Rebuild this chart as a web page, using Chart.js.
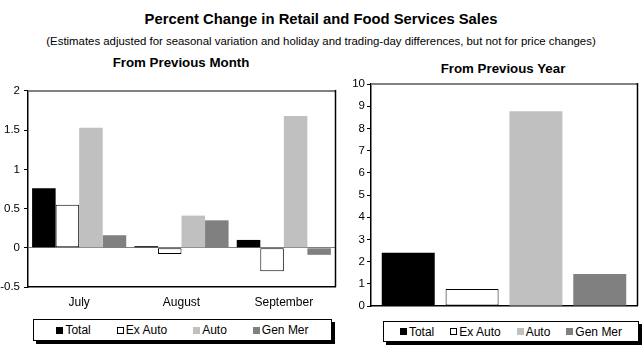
<!DOCTYPE html>
<html>
<head>
<meta charset="utf-8">
<script src="https://cdn.jsdelivr.net/npm/chart.js@4.4.1/dist/chart.umd.min.js"></script>
<style>
  html, body { margin: 0; padding: 0; background: #fff; }
  #wrap { position: relative; width: 642px; height: 356px; overflow: hidden; font-family: "Liberation Sans", Arial, sans-serif; color: #000; }
  .txt { position: absolute; text-align: center; white-space: nowrap; line-height: 1; }
  #title { left: 0; width: 642px; top: 12px; font-size: 14.8px; font-weight: bold; }
  #subtitle { left: 0; width: 642px; top: 36px; font-size: 11.4px; }
  #t1 { left: 81px; width: 200px; top: 56px; font-size: 13.3px; font-weight: bold; }
  #t2 { left: 403px; width: 200px; top: 62px; font-size: 13.3px; font-weight: bold; }
  .cbox { position: absolute; }
  #c1box { left: 0; top: 80px; width: 340px; height: 230px; }
  #c2box { left: 340px; top: 75px; width: 302px; height: 240px; }
  .legend { position: absolute; box-sizing: border-box; border: 1px solid #000; background: #fff;
            box-shadow: 3px 3px 0 #000; display: flex; align-items: center; justify-content: center;
            font-size: 12px; }
  #lg1 { left: 33px; top: 319px; width: 299px; height: 22px; gap: 26px; }
  #lg2 { left: 383px; top: 321px; width: 256px; height: 21px; gap: 16px; }
  .item { display: flex; align-items: center; }
  .mk { width: 7px; height: 7px; box-sizing: border-box; margin-right: 2px; }
</style>
</head>
<body>
<div id="wrap">
  <div id="title" class="txt">Percent Change in Retail and Food Services Sales</div>
  <div id="subtitle" class="txt">(Estimates adjusted for seasonal variation and holiday and trading-day differences, but not for price changes)</div>
  <div id="t1" class="txt">From Previous Month</div>
  <div id="t2" class="txt">From Previous Year</div>
  <div id="c1box" class="cbox"><canvas id="c1" width="340" height="230"></canvas></div>
  <div id="c2box" class="cbox"><canvas id="c2" width="302" height="240"></canvas></div>
  <div id="lg1" class="legend"></div>
  <div id="lg2" class="legend"></div>
</div>
<script>
// ---- data ----
const months = ['July', 'August', 'September'];
const seriesNames = ['Total', 'Ex Auto', 'Auto', 'Gen Mer'];
const monthTotal  = [0.76, 0.02, 0.10];
const monthExAuto = [0.55, -0.08, -0.30];
const monthAuto   = [1.53, 0.41, 1.68];
const monthGenMer = [0.16, 0.35, -0.09];
const yearTotal  = [2.40];
const yearExAuto = [0.77];
const yearAuto   = [8.77];
const yearGenMer = [1.45];
const monthTickValues = [-0.5, 0, 0.5, 1, 1.5, 2];
const yearTickValues  = [0, 1, 2, 3, 4, 5, 6, 7, 8, 9, 10];

// ---- styles ----
const fills   = ['#000000', '#ffffff', '#c0c0c0', '#808080'];
const borders = ['#000000', '#000000', '#c0c0c0', '#808080'];
const bwidths = [0, 1, 0, 0];
const FONT = "'Liberation Sans', Arial, sans-serif";

function makeDatasets(arrs) {
  return arrs.map((d, i) => ({
    label: seriesNames[i], data: d,
    backgroundColor: fills[i], borderColor: borders[i], borderWidth: bwidths[i],
    borderSkipped: false
  }));
}

const framePlugin = {
  id: 'frame',
  afterDraw(chart) {
    const a = chart.chartArea, ctx = chart.ctx;
    ctx.save();
    ctx.strokeStyle = '#808080'; ctx.lineWidth = 2;
    ctx.beginPath(); ctx.moveTo(a.left, a.top); ctx.lineTo(a.right + 1, a.top); ctx.stroke();
    ctx.strokeStyle = '#000'; ctx.lineWidth = 1.5;
    ctx.beginPath(); ctx.moveTo(a.right + 0.5, a.top - 1); ctx.lineTo(a.right + 0.5, a.bottom); ctx.stroke();
    ctx.restore();
  }
};

function fixTicks(values) {
  return function (scale) { scale.ticks = values.map(v => ({ value: v })); };
}
const plainLabel = v => String(v);

Chart.defaults.font.family = FONT;
Chart.defaults.color = '#000';

new Chart(document.getElementById('c1'), {
  type: 'bar',
  data: { labels: months, datasets: makeDatasets([monthTotal, monthExAuto, monthAuto, monthGenMer]) },
  options: {
    responsive: false, animation: false, devicePixelRatio: 1,
    layout: { padding: { top: 9, right: 5, bottom: 0, left: 0 } },
    plugins: { legend: { display: false }, tooltip: { enabled: false } },
    datasets: { bar: { categoryPercentage: 0.92, barPercentage: 1.0 } },
    scales: {
      x: {
        grid: { display: false, drawTicks: false },
        border: { display: true, color: '#000', width: 1.5 },
        ticks: { font: { size: 12 }, color: '#000', padding: 8, maxRotation: 0 },
        afterFit(s) { s.height = 23; }
      },
      y: {
        min: -0.5, max: 2,
        afterBuildTicks: fixTicks(monthTickValues),
        grid: {
          color: c => (c.tick && c.tick.value === 0) ? '#808080' : 'rgba(0,0,0,0)',
          tickColor: '#000', tickLength: 4, lineWidth: 1
        },
        border: { display: true, color: '#000', width: 1.5 },
        ticks: { font: { size: 11.5 }, color: '#000', padding: 4, callback: plainLabel },
        afterFit(s) { s.width = 28; }
      }
    }
  },
  plugins: [framePlugin]
});

new Chart(document.getElementById('c2'), {
  type: 'bar',
  data: { labels: [''], datasets: makeDatasets([yearTotal, yearExAuto, yearAuto, yearGenMer]) },
  options: {
    responsive: false, animation: false, devicePixelRatio: 1,
    layout: { padding: { top: 9, right: 5, bottom: 7, left: 0 } },
    plugins: { legend: { display: false }, tooltip: { enabled: false } },
    datasets: { bar: { categoryPercentage: 0.96, barPercentage: 0.83 } },
    scales: {
      x: {
        display: true,
        grid: { display: false, drawTicks: false },
        border: { display: true, color: '#000', width: 1.5 },
        ticks: { display: false },
        afterFit(s) { s.height = 0; }
      },
      y: {
        min: 0, max: 10,
        afterBuildTicks: fixTicks(yearTickValues),
        grid: { color: 'rgba(0,0,0,0)', tickColor: '#000', tickLength: 4, lineWidth: 1 },
        border: { display: true, color: '#000', width: 1.5 },
        ticks: { font: { size: 11.5 }, color: '#000', padding: 2, callback: plainLabel },
        afterFit(s) { s.width = 31; }
      }
    }
  },
  plugins: [framePlugin]
});

// ---- legends ----
function buildLegend(id) {
  const el = document.getElementById(id);
  seriesNames.forEach((n, i) => {
    const it = document.createElement('div'); it.className = 'item';
    const mk = document.createElement('span'); mk.className = 'mk';
    mk.style.background = fills[i];
    if (bwidths[i]) mk.style.border = '1px solid #000';
    const tx = document.createElement('span'); tx.textContent = n;
    it.appendChild(mk); it.appendChild(tx); el.appendChild(it);
  });
}
buildLegend('lg1');
buildLegend('lg2');
</script>
</body>
</html>
